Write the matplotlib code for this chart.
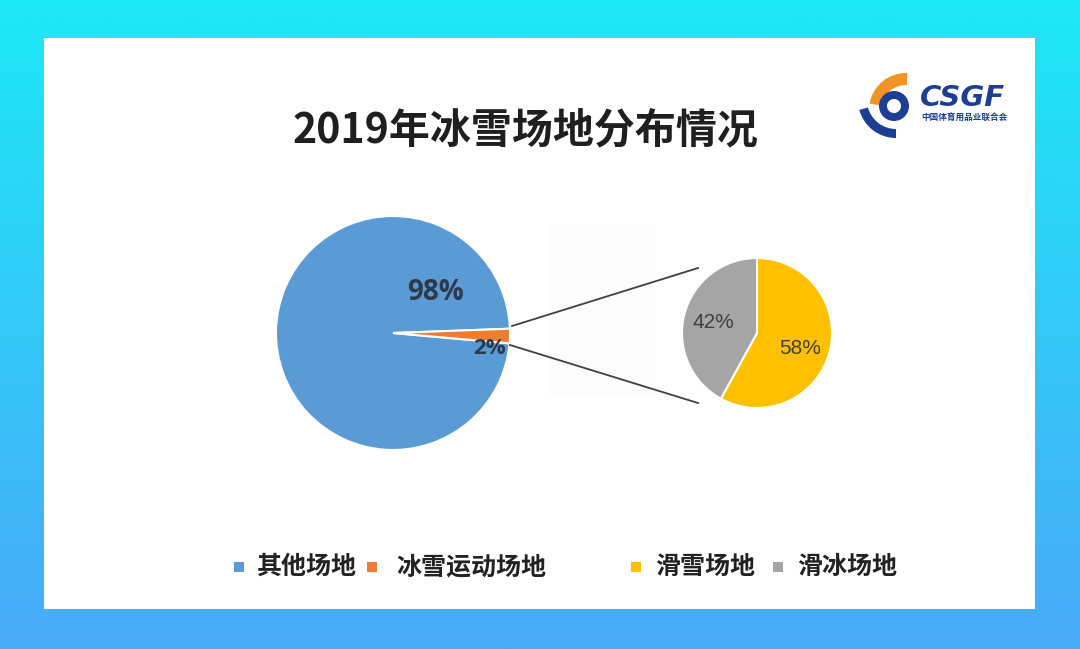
import matplotlib
matplotlib.use("Agg")
import matplotlib.pyplot as plt
import numpy as np
from matplotlib.colors import LinearSegmentedColormap
from matplotlib.patches import Rectangle, Wedge

plt.rcParams['font.family'] = ['Noto Sans CJK SC', 'DejaVu Sans']

# ---------------- data ----------------
title = "2019年冰雪场地分布情况"
main_labels = ["其他场地", "冰雪运动场地"]
main_values = [98, 2]
main_colors = ["#5b9bd5", "#ed7d31"]
sub_labels = ["滑雪场地", "滑冰场地"]
sub_values = [58, 42]
sub_colors = ["#ffc000", "#a5a5a5"]

W, H = 1080, 649
fig = plt.figure(figsize=(W / 100, H / 100), dpi=100)
ax = fig.add_axes([0, 0, 1, 1])


def Y(y):
    return H - y


# background gradient
grad = np.linspace(0, 1, 256).reshape(-1, 1)
cmap = LinearSegmentedColormap.from_list("bg", ["#1de9f6", "#33c9f6", "#4aaaf9"])
ax.imshow(grad, extent=[0, W, 0, H], aspect='auto', cmap=cmap, origin='upper', zorder=0)
ax.add_patch(Rectangle((44, Y(609)), 991, 571, facecolor='white', edgecolor='none', zorder=1))
ax.add_patch(Rectangle((548, Y(395)), 108, 170, facecolor='#fcfcfc', edgecolor='none', zorder=1))

# main pie
wedges, _ = ax.pie(main_values, colors=main_colors, startangle=2.1, counterclock=True,
                   center=(393, Y(333)), radius=117, explode=[0, 0.04],
                   wedgeprops=dict(edgecolor='white', linewidth=1.5), frame=True)
for w in wedges:
    w.set_zorder(3)
ax.text(435, Y(293), f"{main_values[0]}%", fontsize=20, fontweight='bold', color='#2b3a4c',
        ha='center', va='center', family='Open Sans', zorder=5)
ax.text(489, Y(348), f"{main_values[1]}%", fontsize=16, fontweight='bold', color='#2b3a4c',
        ha='center', va='center', family='Open Sans', zorder=5)

# sub pie
wedges2, _ = ax.pie(sub_values, colors=sub_colors, startangle=90, counterclock=False,
                    center=(757, Y(333)), radius=75,
                    wedgeprops=dict(edgecolor='white', linewidth=1.5), frame=True)
for w in wedges2:
    w.set_zorder(3)
ax.text(800, Y(349), f"{sub_values[0]}%", fontsize=15, color='#404040',
        ha='center', va='center', family='Liberation Sans', zorder=5)
ax.text(713, Y(322), f"{sub_values[1]}%", fontsize=15, color='#404040',
        ha='center', va='center', family='Liberation Sans', zorder=5)

# connector lines
ax.plot([512, 698], [Y(326), Y(268)], color='#404040', lw=1.3, zorder=4)
ax.plot([510, 698], [Y(345), Y(403)], color='#404040', lw=1.3, zorder=4)

# title
ax.text(526, Y(131), title, fontsize=29.5, fontweight='bold', color='#1f1f1f',
        ha='center', va='center', zorder=5)

# legend
legend_items = [
    (main_labels[0], main_colors[0], 238.5, 256),
    (main_labels[1], main_colors[1], 371.5, 396),
    (sub_labels[0], sub_colors[0], 636, 655),
    (sub_labels[1], sub_colors[1], 778, 797),
]
for lab, col, sx, tx in legend_items:
    ax.add_patch(Rectangle((sx - 5, Y(567) - 5), 10, 10, facecolor=col, edgecolor='none', zorder=5))
    ax.text(tx, Y(567), lab, fontsize=18, fontweight='bold', color='#222222',
            ha='left', va='center', zorder=5)

# logo
navy = "#1c3f94"
orange = "#f39325"
ax.add_patch(Wedge((906, Y(110)), 37, 88, 170, width=12, facecolor=orange, edgecolor='none', zorder=5))
ax.add_patch(Wedge((894, Y(106)), 15, 0, 360, width=8, facecolor=navy, edgecolor='none', zorder=5))
ax.add_patch(Wedge((896, Y(100)), 38, 195, 270, width=9, facecolor=navy, edgecolor='none', zorder=5))
ax.text(920, Y(98), "CSGF", fontsize=21, fontweight='bold', fontstyle='italic', color=navy,
        ha='left', va='center', family='DejaVu Sans', zorder=5)
ax.text(921, Y(117.5), "中国体育用品业联合会", fontsize=6.2, fontweight='bold', color=navy,
        ha='left', va='center', zorder=5)

ax.set_xlim(0, W)
ax.set_ylim(0, H)
ax.set_aspect('auto')
ax.axis('off')

fig.savefig("out.png", dpi=100)
